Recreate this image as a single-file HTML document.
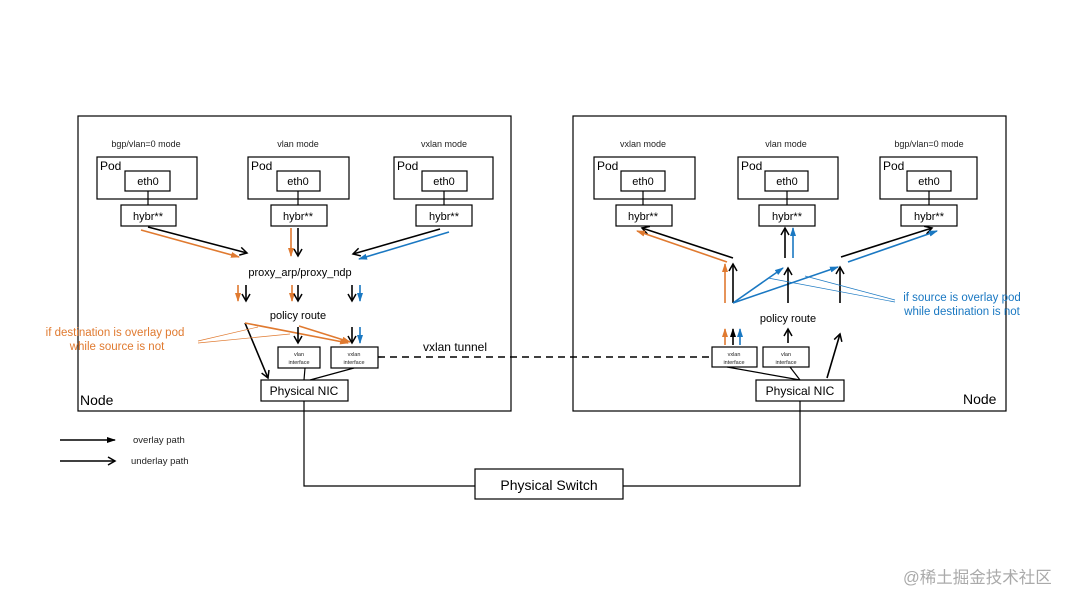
<!DOCTYPE html>
<html><head><meta charset="utf-8"><style>
html,body{margin:0;padding:0;background:#fff;}
svg{display:block;font-family:"Liberation Sans","Noto Sans CJK SC",sans-serif;}
</style></head><body>
<svg width="1080" height="608" viewBox="0 0 1080 608" xmlns="http://www.w3.org/2000/svg">
<defs>
<marker id="ok" markerWidth="10" markerHeight="10" refX="8" refY="5" orient="auto" markerUnits="userSpaceOnUse"><path d="M1,1 L8,5 L1,9" fill="none" stroke="#000" stroke-width="1.5"/></marker>
<marker id="fk" markerWidth="10" markerHeight="10" refX="8" refY="5" orient="auto" markerUnits="userSpaceOnUse"><path d="M0,2 L9,5 L0,8 Z" fill="#000"/></marker>
<marker id="fo" markerWidth="10" markerHeight="10" refX="8" refY="5" orient="auto" markerUnits="userSpaceOnUse"><path d="M0,2 L9,5 L0,8 Z" fill="#e07a30"/></marker>
<marker id="fb" markerWidth="10" markerHeight="10" refX="8" refY="5" orient="auto" markerUnits="userSpaceOnUse"><path d="M0,2 L9,5 L0,8 Z" fill="#1a78c2"/></marker>
</defs>
<g fill="none" stroke="#000" stroke-width="1.2">
<rect x="78" y="116" width="433" height="295"/>
<rect x="573" y="116" width="433" height="295"/>
<rect x="97" y="157" width="100" height="42"/><rect x="125" y="171" width="45" height="20"/><rect x="121" y="205" width="55" height="21"/><line x1="148" y1="191" x2="148" y2="205"/>
<rect x="248" y="157" width="101" height="42"/><rect x="277" y="171" width="43" height="20"/><rect x="271" y="205" width="56" height="21"/><line x1="298" y1="191" x2="298" y2="205"/>
<rect x="394" y="157" width="99" height="42"/><rect x="422" y="171" width="45" height="20"/><rect x="416" y="205" width="56" height="21"/><line x1="444" y1="191" x2="444" y2="205"/>
<rect x="594" y="157" width="101" height="42"/><rect x="621" y="171" width="44" height="20"/><rect x="616" y="205" width="56" height="21"/><line x1="643" y1="191" x2="643" y2="205"/>
<rect x="738" y="157" width="100" height="42"/><rect x="765" y="171" width="43" height="20"/><rect x="759" y="205" width="56" height="21"/><line x1="787" y1="191" x2="787" y2="205"/>
<rect x="880" y="157" width="97" height="42"/><rect x="907" y="171" width="44" height="20"/><rect x="901" y="205" width="56" height="21"/><line x1="929" y1="191" x2="929" y2="205"/>
<rect x="278" y="347" width="42" height="21"/><rect x="331" y="347" width="47" height="21"/><rect x="261" y="380" width="87" height="21"/>
<rect x="712" y="347" width="45" height="20"/><rect x="763" y="347" width="46" height="20"/><rect x="756" y="380" width="88" height="21"/>
<rect x="475" y="469" width="148" height="30"/>
<line x1="305" y1="368" x2="304" y2="380"/><line x1="354" y1="368" x2="310" y2="380"/>
<line x1="727" y1="367" x2="800" y2="380"/><line x1="790" y1="367" x2="800" y2="380"/>
<path d="M304,401 V486 H475"/><path d="M800,401 V486 H623"/>
<line x1="378" y1="357" x2="712" y2="357" stroke-dasharray="7,5" stroke-width="1.6"/>
</g>
<g fill="none" stroke-width="1.6">
<line x1="148" y1="227" x2="247" y2="253" stroke="#000" marker-end="url(#ok)"/>
<line x1="141" y1="230" x2="239" y2="257" stroke="#e07a30" marker-end="url(#fo)"/>
<line x1="291" y1="228" x2="291" y2="256" stroke="#e07a30" marker-end="url(#fo)"/>
<line x1="298" y1="228" x2="298" y2="256" stroke="#000" marker-end="url(#ok)"/>
<line x1="440" y1="229" x2="353" y2="254" stroke="#000" marker-end="url(#ok)"/>
<line x1="449" y1="232" x2="359" y2="259" stroke="#1a78c2" marker-end="url(#fb)"/>
<line x1="238" y1="285" x2="238" y2="301" stroke="#e07a30" marker-end="url(#fo)"/>
<line x1="246" y1="285" x2="246" y2="301" stroke="#000" marker-end="url(#ok)"/>
<line x1="292" y1="285" x2="292" y2="301" stroke="#e07a30" marker-end="url(#fo)"/>
<line x1="298" y1="285" x2="298" y2="301" stroke="#000" marker-end="url(#ok)"/>
<line x1="352" y1="285" x2="352" y2="301" stroke="#000" marker-end="url(#ok)"/>
<line x1="360" y1="285" x2="360" y2="301" stroke="#1a78c2" marker-end="url(#fb)"/>
<line x1="245" y1="323" x2="268" y2="378" stroke="#000" marker-end="url(#ok)"/>
<line x1="245" y1="323" x2="348" y2="343" stroke="#e07a30" marker-end="url(#fo)"/>
<line x1="299" y1="326" x2="350" y2="342" stroke="#e07a30" marker-end="url(#fo)"/>
<line x1="298" y1="327" x2="298" y2="343" stroke="#000" marker-end="url(#ok)"/>
<line x1="352" y1="327" x2="352" y2="343" stroke="#000" marker-end="url(#ok)"/>
<line x1="360" y1="327" x2="360" y2="343" stroke="#1a78c2" marker-end="url(#fb)"/>
<line x1="733" y1="258" x2="642" y2="228" stroke="#000" marker-end="url(#ok)"/>
<line x1="727" y1="262" x2="637" y2="231" stroke="#e07a30" marker-end="url(#fo)"/>
<line x1="733" y1="303" x2="733" y2="264" stroke="#000" marker-end="url(#ok)"/>
<line x1="725" y1="303" x2="725" y2="264" stroke="#e07a30" marker-end="url(#fo)"/>
<line x1="785" y1="258" x2="785" y2="228" stroke="#000" marker-end="url(#ok)"/>
<line x1="793" y1="258" x2="793" y2="228" stroke="#1a78c2" marker-end="url(#fb)"/>
<line x1="841" y1="257" x2="932" y2="228" stroke="#000" marker-end="url(#ok)"/>
<line x1="848" y1="262" x2="937" y2="231" stroke="#1a78c2" marker-end="url(#fb)"/>
<line x1="733" y1="303" x2="783" y2="268" stroke="#1a78c2" marker-end="url(#fb)"/>
<line x1="733" y1="303" x2="838" y2="267" stroke="#1a78c2" marker-end="url(#fb)"/>
<line x1="788" y1="303" x2="788" y2="268" stroke="#000" marker-end="url(#ok)"/>
<line x1="840" y1="303" x2="840" y2="267" stroke="#000" marker-end="url(#ok)"/>
<line x1="725" y1="345" x2="725" y2="329" stroke="#e07a30" marker-end="url(#fo)"/>
<line x1="733" y1="345" x2="733" y2="329" stroke="#000" marker-end="url(#fk)"/>
<line x1="740" y1="345" x2="740" y2="329" stroke="#1a78c2" marker-end="url(#fb)"/>
<line x1="788" y1="343" x2="788" y2="329" stroke="#000" marker-end="url(#ok)"/>
<line x1="827" y1="378" x2="840" y2="334" stroke="#000" marker-end="url(#ok)"/>
<line x1="60" y1="440" x2="115" y2="440" stroke="#000" marker-end="url(#fk)"/>
<line x1="60" y1="461" x2="115" y2="461" stroke="#000" marker-end="url(#ok)"/>
</g>
<g stroke-width="0.7" fill="none">
<line x1="198" y1="341" x2="258" y2="327" stroke="#e07a30"/><line x1="198" y1="343" x2="290" y2="334" stroke="#e07a30"/>
<line x1="768" y1="278" x2="895" y2="302" stroke="#1a78c2"/><line x1="805" y1="276" x2="895" y2="300" stroke="#1a78c2"/>
</g>
<g font-size="9" fill="#222" text-anchor="middle">
<text x="146" y="147">bgp/vlan=0 mode</text><text x="298" y="147">vlan mode</text><text x="444" y="147">vxlan mode</text>
<text x="643" y="147">vxlan mode</text><text x="786" y="147">vlan mode</text><text x="929" y="147">bgp/vlan=0 mode</text>
</g>
<g font-size="12" fill="#000">
<text x="100" y="170">Pod</text><text x="251" y="170">Pod</text><text x="397" y="170">Pod</text>
<text x="597" y="170">Pod</text><text x="741" y="170">Pod</text><text x="883" y="170">Pod</text>
</g>
<g font-size="11" fill="#000" text-anchor="middle">
<text x="148" y="185">eth0</text><text x="298" y="185">eth0</text><text x="444" y="185">eth0</text>
<text x="643" y="185">eth0</text><text x="787" y="185">eth0</text><text x="929" y="185">eth0</text>
<text x="148" y="220">hybr**</text><text x="298" y="220">hybr**</text><text x="444" y="220">hybr**</text>
<text x="643" y="220">hybr**</text><text x="787" y="220">hybr**</text><text x="929" y="220">hybr**</text>
<text x="300" y="276">proxy_arp/proxy_ndp</text>
<text x="298" y="319">policy route</text><text x="788" y="322">policy route</text>
<text x="304" y="395" font-size="12">Physical NIC</text><text x="800" y="395" font-size="12">Physical NIC</text>
<text x="549" y="490" font-size="14">Physical Switch</text>
<text x="455" y="351" font-size="12">vxlan tunnel</text>
</g>
<g font-size="5.5" fill="#222" text-anchor="middle">
<text x="299" y="356">vlan</text><text x="299" y="364">interface</text>
<text x="354" y="356">vxlan</text><text x="354" y="364">interface</text>
<text x="734" y="356">vxlan</text><text x="734" y="364">interface</text>
<text x="786" y="356">vlan</text><text x="786" y="364">interface</text>
</g>
<text x="80" y="405" font-size="14">Node</text>
<text x="963" y="404" font-size="14">Node</text>
<g font-size="11.5" fill="#e07a30" text-anchor="middle"><text x="115" y="336">if destination is overlay pod</text><text x="117" y="350">while source is not</text></g>
<g font-size="11.5" fill="#1a78c2" text-anchor="middle"><text x="962" y="301">if source is overlay pod</text><text x="962" y="315">while destination is not</text></g>
<g font-size="9.5" fill="#222"><text x="133" y="443">overlay path</text><text x="131" y="464">underlay path</text></g>
<text x="903" y="583" font-size="16.5" fill="#aaa">@稀土掘金技术社区</text>
</svg>
</body></html>
